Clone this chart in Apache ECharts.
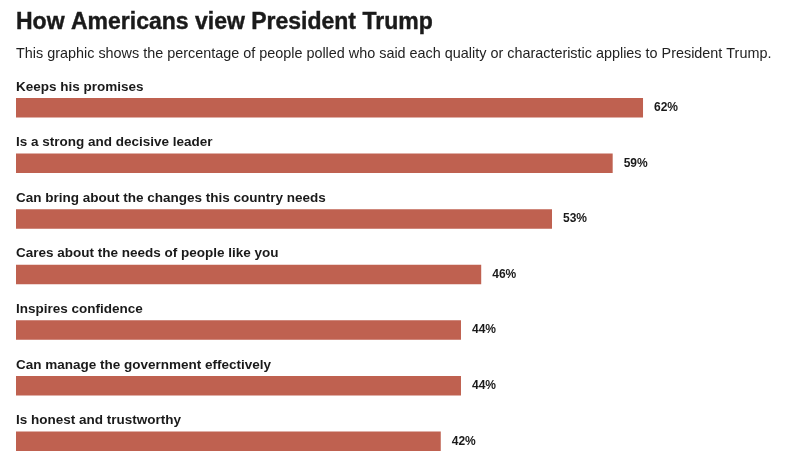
<!DOCTYPE html>
<html>
<head>
<meta charset="utf-8">
<script src="https://cdn.jsdelivr.net/npm/echarts@6/dist/echarts.min.js"></script>
<style>
html,body{margin:0;padding:0;background:#fff;}
#c{width:804px;height:469px;}
</style>
</head>
<body>
<div id="c"></div>
<script>
var titleText = 'How Americans view President Trump';
var subtitleText = 'This graphic shows the percentage of people polled who said each quality or characteristic applies to President Trump.';
var categories = [
  'Keeps his promises',
  'Is a strong and decisive leader',
  'Can bring about the changes this country needs',
  'Cares about the needs of people like you',
  'Inspires confidence',
  'Can manage the government effectively',
  'Is honest and trustworthy'
];
var values = [62, 59, 53, 46, 44, 44, 42];

var FONT = '"Liberation Sans", Arial, Helvetica, sans-serif';
var chart = echarts.init(document.getElementById('c'), null, {renderer: 'canvas'});
chart.setOption({
  animation: false,
  backgroundColor: '#ffffff',
  title: [
    {text: titleText, left: 16, top: 11, padding: 0,
     textStyle: {fontFamily: FONT, fontSize: 23, fontWeight: 'bold', color: '#1a1a1a', lineHeight: 24,
       textBorderColor: '#1a1a1a', textBorderWidth: 0.4}},
    {text: subtitleText, left: 16, top: 47, padding: 0,
     textStyle: {fontFamily: FONT, fontSize: 14.4, fontWeight: 'normal', color: '#222', lineHeight: 14}}
  ],
  grid: {left: 16, right: 29.5, top: 80, bottom: 0, containLabel: false},
  xAxis: {type: 'value', min: 0, max: 75, show: false},
  yAxis: {type: 'category', data: categories, inverse: true, show: false},
  series: [
    {
      type: 'bar', data: values, barWidth: 19.5,
      itemStyle: {color: '#bf6150'},
      label: {show: true, position: 'right', distance: 11, formatter: '{c}%',
        fontFamily: FONT, fontSize: 12, fontWeight: 'bold', color: '#1a1a1a'}
    },
    {
      type: 'bar', data: values, barWidth: 19.5, barGap: '-100%', silent: true,
      itemStyle: {color: 'rgba(0,0,0,0)'},
      label: {show: true, position: [0, -11], align: 'left', verticalAlign: 'middle',
        formatter: '{b}', fontFamily: FONT, fontSize: 13.5, fontWeight: 'bold', color: '#1a1a1a'}
    }
  ]
});
</script>
</body>
</html>
